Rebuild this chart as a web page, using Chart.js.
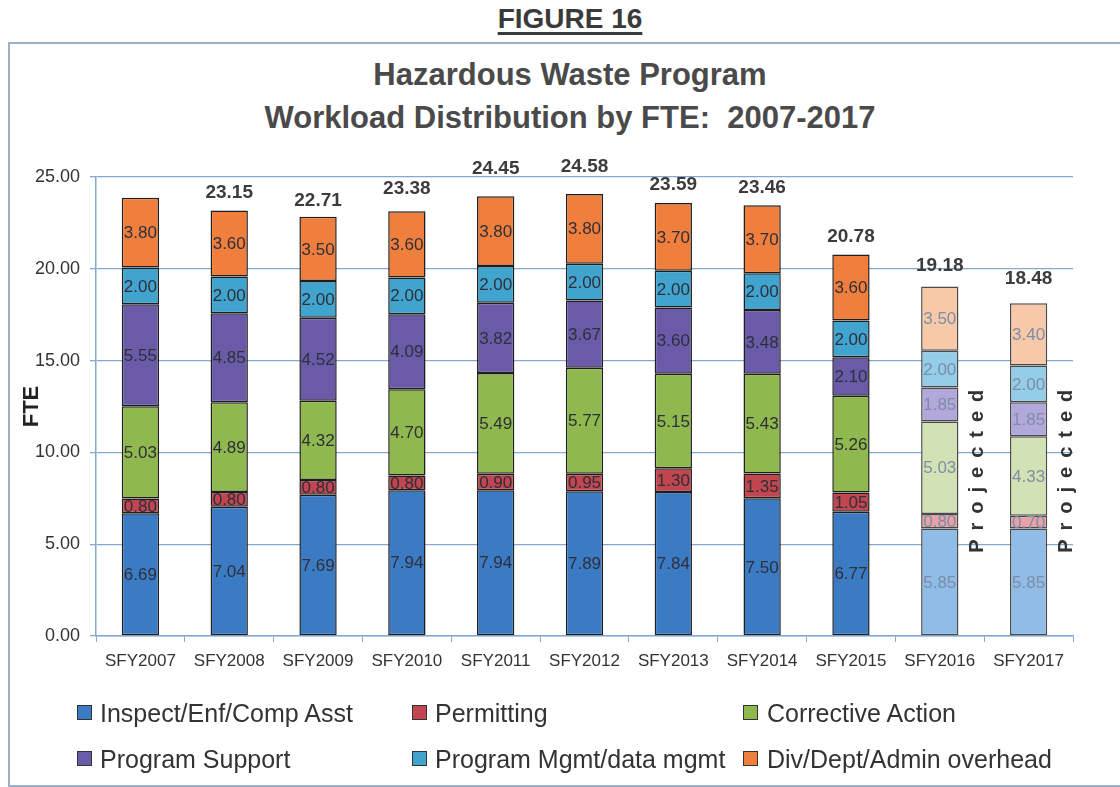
<!DOCTYPE html>
<html>
<head>
<meta charset="utf-8">
<script src="https://cdn.jsdelivr.net/npm/chart.js@4.4.0/dist/chart.umd.min.js"></script>
<style>
  body { margin: 0; background: #fff; width: 1120px; height: 787px; overflow: hidden; position: relative; font-family: 'Liberation Sans', Arial, sans-serif; }
  #fig { position: absolute; left: 0; width: 1140px; top: 4px; line-height: 30px; text-align: center; font-size: 28px; font-weight: bold; color: #3a3a3a;
         text-decoration: underline; text-decoration-thickness: 2.5px; text-underline-offset: 4px; }
  #box { position: absolute; left: 8px; top: 42px; width: 1130px; height: 741px; border: 2px solid #9db0c6; border-right: none; }
  .ttl { position: absolute; left: 0; width: 1140px; text-align: center; font-size: 31px; font-weight: bold; color: #4a4a4a; line-height: 36px; white-space: pre; }
  #chartWrap { position: absolute; left: 0; top: 0; width: 1120px; height: 787px; }
  .lg { position: absolute; font-size: 25px; color: #333; line-height: 30px; white-space: nowrap; }
  .sw { position: absolute; width: 13px; height: 13px; border: 1px solid #333; }
</style>
</head>
<body>
<div id="fig">FIGURE 16</div>
<div id="box"></div>
<div class="ttl" style="top:57px">Hazardous Waste Program</div>
<div class="ttl" style="top:100px">Workload Distribution by FTE:  2007-2017</div>
<div id="chartWrap"><canvas id="c" width="1120" height="787"></canvas></div>
<div id="legend"></div>
<script>
const years = ['SFY2007', 'SFY2008', 'SFY2009', 'SFY2010', 'SFY2011', 'SFY2012', 'SFY2013', 'SFY2014', 'SFY2015', 'SFY2016', 'SFY2017'];
const inspect = [6.69, 7.04, 7.69, 7.94, 7.94, 7.89, 7.84, 7.50, 6.77, 5.85, 5.85];
const permitting = [0.80, 0.80, 0.80, 0.80, 0.90, 0.95, 1.30, 1.35, 1.05, 0.80, 0.70];
const corrective = [5.03, 4.89, 4.32, 4.70, 5.49, 5.77, 5.15, 5.43, 5.26, 5.03, 4.33];
const support = [5.55, 4.85, 4.52, 4.09, 3.82, 3.67, 3.60, 3.48, 2.10, 1.85, 1.85];
const mgmt = [2.00, 2.00, 2.00, 2.00, 2.00, 2.00, 2.00, 2.00, 2.00, 2.00, 2.00];
const overhead = [3.80, 3.60, 3.50, 3.60, 3.80, 3.80, 3.70, 3.70, 3.60, 3.50, 3.40];
const totals = [null, 23.15, 22.71, 23.38, 24.45, 24.58, 23.59, 23.46, 20.78, 19.18, 18.48];
const projected = [false, false, false, false, false, false, false, false, false, true, true];
const yTicks = [0, 5, 10, 15, 20, 25];

// colours: normal / pale for projected years
const series = [
    { label: 'Inspect/Enf/Comp Asst', data: inspect, color: '#3b7bc4', pale: '#90bce8' },
    { label: 'Permitting', data: permitting, color: '#c2464f', pale: '#eaa2a8' },
    { label: 'Corrective Action', data: corrective, color: '#8fb84e', pale: '#d2e2b4' },
    { label: 'Program Support', data: support, color: '#6a5ba9', pale: '#b3a8dc' },
    { label: 'Program Mgmt/data mgmt', data: mgmt, color: '#40a4cf', pale: '#94cde8' },
    { label: 'Div/Dept/Admin overhead', data: overhead, color: '#f07f3d', pale: '#f8c9a9' }
];

const gridBlue = '#86a8d0';

const segLabels = {
    id: 'segLabels',
    afterDatasetsDraw(chart) {
        const ctx = chart.ctx;
        ctx.save();
        ctx.font = '17px "Liberation Sans", Arial, sans-serif';
        ctx.textAlign = 'center';
        ctx.textBaseline = 'middle';
        chart.data.datasets.forEach((ds, di) => {
            const meta = chart.getDatasetMeta(di);
            meta.data.forEach((bar, i) => {
                ctx.fillStyle = projected[i] ? '#7d8ea6' : '#2f2f3a';
                ctx.fillText(ds.data[i].toFixed(2), bar.x, (bar.y + bar.base) / 2 + 1);
            });
        });
        // totals above bars
        const x = chart.scales.x, y = chart.scales.y;
        ctx.font = 'bold 19px "Liberation Sans", Arial, sans-serif';
        ctx.fillStyle = '#3c3c3c';
        totals.forEach((t, i) => {
            if (t == null) return;
            ctx.fillText(t.toFixed(2), x.getPixelForValue(i), y.getPixelForValue(t) - 18);
        });
        // "Projected" notes
        ctx.font = 'bold 20px "Liberation Sans", Arial, sans-serif';
        ctx.fillStyle = '#333';
        ctx.letterSpacing = '9px';
        projected.forEach((p, i) => {
            if (!p) return;
            ctx.save();
            ctx.translate(x.getPixelForValue(i) + 38, y.getPixelForValue(9));
            ctx.rotate(-Math.PI / 2);
            ctx.fillText('Projected', 4, 0);
            ctx.restore();
        });
        ctx.restore();
    }
};

new Chart(document.getElementById('c'), {
    type: 'bar',
    data: {
        labels: years,
        datasets: series.map(s => ({
            label: s.label,
            data: s.data,
            backgroundColor: s.data.map((v, i) => projected[i] ? s.pale : s.color),
            borderColor: s.data.map((v, i) => projected[i] ? '#4a4a4a' : '#1e1e1e'),
            borderWidth: 1.5,
            borderSkipped: false,
            barPercentage: 0.42,
            categoryPercentage: 1
        }))
    },
    options: {
        responsive: false,
        animation: false,
        maintainAspectRatio: false,
        layout: { padding: { top: 177, right: 47, bottom: 111, left: 0 } },
        plugins: { legend: { display: false }, tooltip: { enabled: false }, title: { display: false } },
        scales: {
            x: {
                stacked: true,
                grid: { display: true, drawOnChartArea: false, drawTicks: true, tickLength: 6, color: gridBlue, offset: true },
                border: { color: gridBlue, width: 1.5 },
                ticks: { color: '#333', font: { family: '"Liberation Sans", Arial, sans-serif', size: 17 }, padding: 9, maxRotation: 0 },
                afterFit(s) { s.height = 40; }
            },
            y: {
                stacked: true,
                min: 0,
                max: 25,
                afterBuildTicks(s) { s.ticks = yTicks.map(v => ({ value: v })); },
                ticks: { color: '#333', font: { family: '"Liberation Sans", Arial, sans-serif', size: 18 }, padding: 10, callback: v => v.toFixed(2) },
                grid: { color: gridBlue, lineWidth: 1.3, tickLength: 6 },
                border: { color: gridBlue, width: 1.5 },
                title: { display: true, text: 'FTE', color: '#222', font: { family: '"Liberation Sans", Arial, sans-serif', size: 22, weight: 'bold' }, padding: { top: 19, bottom: 0 } },
                afterFit(s) { s.width = 96; }
            }
        }
    },
    plugins: [segLabels]
});

// legend laid out in two rows of three like the original
const legendPos = [
    { sx: 77, tx: 100, top: 698 }, { sx: 412, tx: 435, top: 698 }, { sx: 743, tx: 767, top: 698 },
    { sx: 77, tx: 100, top: 744 }, { sx: 412, tx: 435, top: 744 }, { sx: 743, tx: 767, top: 744 }
];
const legendOrder = [0, 1, 2, 3, 4, 5];
const lg = document.getElementById('legend');
legendOrder.forEach((si, k) => {
    const p = legendPos[k];
    const sw = document.createElement('div');
    sw.className = 'sw';
    sw.style.left = p.sx + 'px';
    sw.style.top = (p.top + 7) + 'px';
    sw.style.background = series[si].color;
    lg.appendChild(sw);
    const t = document.createElement('div');
    t.className = 'lg';
    t.style.left = p.tx + 'px';
    t.style.top = p.top + 'px';
    t.textContent = series[si].label;
    lg.appendChild(t);
});
</script>
</body>
</html>
